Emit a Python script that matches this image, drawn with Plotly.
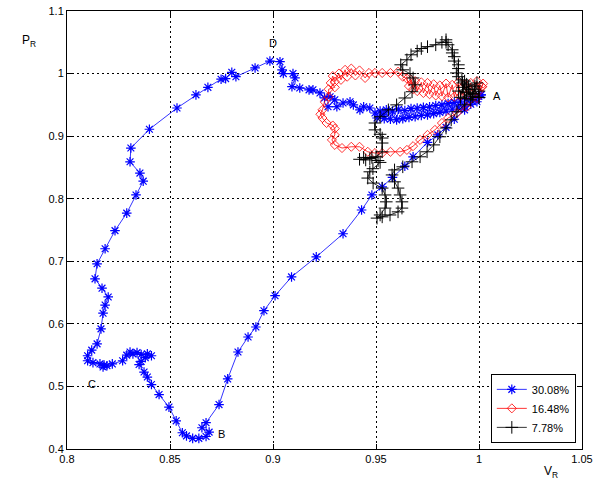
import plotly.graph_objects as go

# ---- data ----
blue_v = [1.001, 0.997, 0.993, 0.988, 0.984, 0.980, 0.975, 0.968, 0.964, 0.958, 0.953, 0.948,
          0.943, 0.934, 0.921, 0.909, 0.901, 0.8956, 0.8917, 0.8879, 0.883, 0.878, 0.8738,
          0.8675, 0.8655, 0.869, 0.8675, 0.864, 0.861, 0.858, 0.856, 0.853, 0.8495, 0.8447,
          0.841, 0.839, 0.8374, 0.835, 0.836, 0.838, 0.841, 0.839, 0.836, 0.834, 0.8306,
          0.832, 0.829, 0.827, 0.822, 0.8194, 0.8175, 0.818, 0.816, 0.8126, 0.810, 0.810,
          0.812, 0.8146, 0.8165, 0.8175, 0.8185, 0.820, 0.817, 0.8136, 0.8146, 0.8185,
          0.8233, 0.829, 0.8335, 0.837, 0.8354, 0.8306, 0.831, 0.840, 0.8534, 0.8626,
          0.8684, 0.8748, 0.877, 0.880, 0.882, 0.8913, 0.8985, 0.9034, 0.9044, 0.905,
          0.9097, 0.9107, 0.9092, 0.913, 0.9175, 0.9194, 0.9228, 0.925, 0.9277, 0.930,
          0.9267, 0.931, 0.934, 0.9374, 0.939, 0.9422, 0.944, 0.947, 0.9495, 0.9505,
          0.9534, 0.952, 0.954, 0.955, 0.957, 0.958, 0.960, 0.961, 0.963, 0.964, 0.966,
          0.967, 0.969, 0.970, 0.972, 0.973, 0.975, 0.976, 0.978, 0.979, 0.981, 0.982,
          0.984, 0.985, 0.987, 0.988, 0.990, 0.991, 0.993, 0.994, 0.996, 0.997, 0.999,
          1.000, 1.001]
blue_p = [0.966, 0.955, 0.942, 0.927, 0.914, 0.902, 0.890, 0.867, 0.852, 0.834, 0.819, 0.806,
          0.782, 0.744, 0.707, 0.675, 0.645, 0.621, 0.595, 0.579, 0.555, 0.512, 0.471,
          0.442, 0.434, 0.427, 0.420, 0.417, 0.417, 0.421, 0.426, 0.445, 0.467, 0.487,
          0.503, 0.515, 0.523, 0.535, 0.540, 0.546, 0.549, 0.552, 0.551, 0.554, 0.555,
          0.552, 0.550, 0.541, 0.536, 0.533, 0.531, 0.534, 0.536, 0.538, 0.541, 0.549,
          0.558, 0.568, 0.592, 0.617, 0.630, 0.643, 0.657, 0.672, 0.696, 0.720,
          0.749, 0.777, 0.806, 0.828, 0.841, 0.859, 0.881, 0.911, 0.945, 0.966,
          0.978, 0.991, 0.992, 1.002, 0.995, 1.009, 1.020, 1.019, 1.006, 1.000,
          1.000, 0.993, 0.979, 0.977, 0.974, 0.974, 0.969, 0.961, 0.963, 0.958,
          0.947, 0.947, 0.953, 0.955, 0.950, 0.942, 0.947, 0.945, 0.937, 0.929,
          0.934, 0.940, 0.928, 0.942, 0.927, 0.940, 0.926, 0.943, 0.928, 0.941, 0.930,
          0.944, 0.931, 0.945, 0.933, 0.946, 0.934, 0.947, 0.936, 0.949, 0.938, 0.950,
          0.940, 0.952, 0.943, 0.954, 0.945, 0.956, 0.948, 0.959, 0.951, 0.961, 0.955,
          0.964, 0.966]

red_v = [1.0015, 1.002, 1.000, 0.999, 0.997, 0.996, 0.994, 0.993, 0.991, 0.990, 0.988, 0.987,
         0.985, 0.984, 0.982, 0.981, 0.979, 0.978, 0.976, 0.975, 0.973, 0.972, 0.970, 0.969,
         0.968, 0.967, 0.966, 0.965, 0.963, 0.9607, 0.957, 0.953, 0.9495, 0.9466, 0.9447,
         0.942, 0.940, 0.938, 0.936, 0.935, 0.933, 0.932, 0.930, 0.929, 0.928, 0.930, 0.927,
         0.927, 0.925, 0.924, 0.923, 0.924, 0.926, 0.929, 0.930, 0.930, 0.9286, 0.930,
         0.9335, 0.938, 0.942, 0.946, 0.9495, 0.953, 0.957, 0.9617, 0.965, 0.968, 0.9714,
         0.975, 0.9786, 0.982, 0.985, 0.9893, 0.994, 0.999, 1.0015]
red_p = [0.979, 0.984, 0.972, 0.988, 0.968, 0.985, 0.966, 0.983, 0.964, 0.986, 0.963, 0.982,
         0.962, 0.984, 0.964, 0.981, 0.965, 0.983, 0.967, 0.985, 0.969, 0.986, 0.972, 0.988,
         0.975, 0.990, 0.980, 0.992, 0.995, 1.003, 1.001, 1.001, 1.001, 1.001, 0.993,
         1.005, 0.997, 1.008, 0.995, 1.006, 0.990, 1.000, 0.987, 0.996, 0.985, 0.978, 0.975,
         0.963, 0.955, 0.942, 0.935, 0.929, 0.921, 0.917, 0.912, 0.902, 0.894, 0.886,
         0.881, 0.883, 0.883, 0.875, 0.873, 0.873, 0.875, 0.875, 0.878, 0.884, 0.894,
         0.902, 0.910, 0.921, 0.929, 0.937, 0.947, 0.961, 0.979]

black_v = [1.000, 0.998, 0.996, 0.995, 0.993, 0.992, 0.994, 0.990, 0.999, 0.997, 0.991, 0.993,
           0.995, 0.998, 1.000, 0.996, 0.992, 0.994,
           0.9917, 0.990, 0.989, 0.990, 0.990, 0.988, 0.988, 0.987, 0.987, 0.985, 0.984,
           0.984, 0.982, 0.979, 0.975, 0.972, 0.970, 0.967, 0.965, 0.962, 0.963, 0.9665,
           0.968, 0.969, 0.9675, 0.964, 0.960, 0.956, 0.952, 0.9495, 0.9495, 0.952, 0.953,
           0.953, 0.953, 0.950, 0.947, 0.944, 0.942, 0.945, 0.948, 0.951, 0.952, 0.9485,
           0.947, 0.946, 0.9486, 0.953, 0.9544, 0.955, 0.9544, 0.952, 0.9505, 0.953, 0.9568,
           0.9607, 0.9626, 0.9626, 0.9617, 0.9607, 0.959, 0.9578, 0.959, 0.963, 0.9675,
           0.9714, 0.9748, 0.978, 0.981, 0.984, 0.9865, 0.9893, 0.993, 0.997, 1.000]
black_p = [0.962, 0.975, 0.958, 0.980, 0.960, 0.985, 0.970, 0.972, 0.985, 0.968, 0.962, 0.988,
           0.975, 0.980, 0.972, 0.966, 0.978, 0.983,
           0.990, 0.995, 1.001, 1.008, 1.014, 1.020, 1.027, 1.033, 1.038, 1.046, 1.050,
           1.054, 1.050, 1.046, 1.043, 1.040, 1.036, 1.030, 1.022, 1.014, 1.006, 1.000,
           0.993, 0.982, 0.971, 0.961, 0.950, 0.942, 0.931, 0.921, 0.910, 0.903, 0.897,
           0.889, 0.875, 0.867, 0.864, 0.866, 0.863, 0.862, 0.866, 0.861, 0.858, 0.848,
           0.843, 0.833, 0.825, 0.817, 0.806, 0.795, 0.785, 0.774, 0.769, 0.771, 0.774,
           0.779, 0.785, 0.795, 0.806, 0.817, 0.827, 0.838, 0.846, 0.851, 0.859,
           0.867, 0.875, 0.886, 0.899, 0.913, 0.926, 0.939, 0.950, 0.963, 0.962]

series_names = ["30.08%", "16.48%", "7.78%"]
point_labels = ["A", "B", "C", "D"]
point_v = [1.0087, 0.8752, 0.8121, 0.900]
point_p = [0.964, 0.4243, 0.504, 1.049]

x_ticks = [0.8, 0.85, 0.9, 0.95, 1.0, 1.05]
x_tick_text = ["0.8", "0.85", "0.9", "0.95", "1", "1.05"]
y_ticks = [0.4, 0.5, 0.6, 0.7, 0.8, 0.9, 1.0, 1.1]
y_tick_text = ["0.4", "0.5", "0.6", "0.7", "0.8", "0.9", "1", "1.1"]

FONT = "Liberation Sans, Arial, Helvetica, sans-serif"

fig = go.Figure()
fig.add_trace(go.Scatter(
    x=blue_v, y=blue_p, mode="lines+markers", name=series_names[0],
    line=dict(color="#0000FF", width=0.8),
    marker=dict(symbol="asterisk-open", size=8, color="#0000FF",
                line=dict(color="#0000FF", width=1.2))))
fig.add_trace(go.Scatter(
    x=red_v, y=red_p, mode="lines+markers", name=series_names[1],
    line=dict(color="#FF0000", width=0.8),
    marker=dict(symbol="diamond-open", size=7, color="#FF0000",
                line=dict(color="#FF0000", width=0.8))))
fig.add_trace(go.Scatter(
    x=black_v, y=black_p, mode="lines+markers", name=series_names[2],
    line=dict(color="#000000", width=0.8),
    marker=dict(symbol="cross-thin-open", size=9, color="#000000",
                line=dict(color="#000000", width=1))))

for lab, xv, yv in zip(point_labels, point_v, point_p):
    fig.add_annotation(x=xv, y=yv, text=lab, showarrow=False,
                       font=dict(family=FONT, size=11, color="#000000"))

fig.add_annotation(x=-0.091, y=0.955, xref="paper", yref="paper", showarrow=False,
                   text="P<sub>R</sub>", font=dict(family=FONT, size=12, color="#000000"))
fig.add_annotation(x=0.957, y=-0.075, xref="paper", yref="paper", showarrow=False,
                   text="V<sub>R</sub>", font=dict(family=FONT, size=12, color="#000000"))

axis_common = dict(
    showgrid=True, gridcolor="#000000", gridwidth=1, griddash="2px,3px",
    showline=True, linecolor="#000000", linewidth=1, mirror="allticks",
    ticks="inside", ticklen=5, tickcolor="#000000", zeroline=False, automargin=False,
    tickfont=dict(family=FONT, size=11, color="#000000"))

fig.update_xaxes(range=[0.8, 1.05], tickvals=x_ticks, ticktext=x_tick_text, **axis_common)
fig.update_yaxes(range=[0.4, 1.1], tickvals=y_ticks, ticktext=y_tick_text, **axis_common)

fig.update_layout(
    template="none",
    width=593, height=492,
    margin=dict(l=67, r=11, t=11, b=43, pad=0),
    paper_bgcolor="#FFFFFF", plot_bgcolor="#FFFFFF",
    font=dict(family=FONT, size=11, color="#000000"),
    showlegend=True,
    legend=dict(x=0.988, y=0.014, xanchor="right", yanchor="bottom",
                bgcolor="#FFFFFF", bordercolor="#000000", borderwidth=1,
                font=dict(family=FONT, size=11, color="#000000"),
                itemwidth=30, tracegroupgap=0),
)

fig.write_html("out.html",
               config={"displayModeBar": False},
               post_script="document.body.style.margin='0';document.body.style.overflow='hidden';")
